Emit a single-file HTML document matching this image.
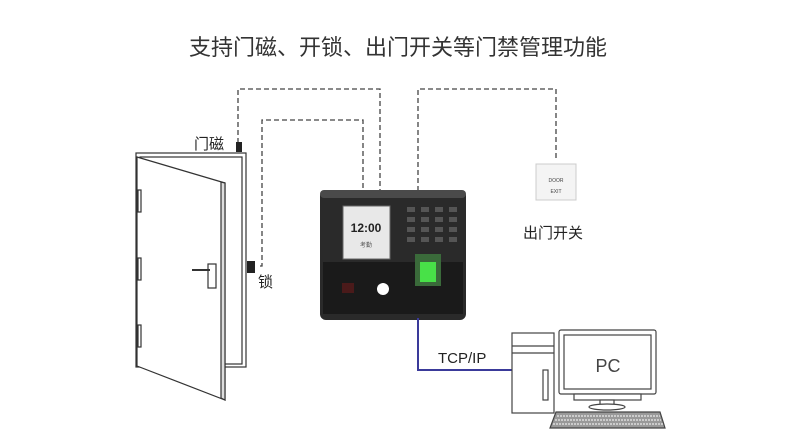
<!DOCTYPE html>
<html><head><meta charset="utf-8"><style>
body{margin:0;background:#fff}
svg{display:block;font-family:"Liberation Sans","Noto Sans CJK SC",sans-serif}
</style></head><body>
<svg width="792" height="439" viewBox="0 0 792 439">
<text x="398" y="55" font-size="22" fill="#333" text-anchor="middle">支持门磁、开锁、出门开关等门禁管理功能</text>
<g fill="none" stroke="#444" stroke-width="1.3" stroke-dasharray="5,3">
<path d="M238 143V89H380V191"/>
<path d="M260 266H262V120H363V191"/>
<path d="M418 191V89H556V160"/>
</g>
<!-- door -->
<g stroke="#333" fill="#fff" stroke-width="1.2">
<rect x="136" y="153" width="110" height="214"/>
<rect x="140" y="157" width="102" height="207" fill="#fff"/>
<polygon points="137,157 225,183 225,400 137,366" fill="#fff"/>
<polygon points="221,182 225,183 225,400 221,398" fill="#ddd"/>
<rect x="138" y="190" width="3" height="22"/><rect x="138" y="258" width="3" height="22"/><rect x="138" y="325" width="3" height="22"/>
<rect x="208" y="264" width="8" height="24"/>
<path d="M192 270L210 270" stroke-width="2"/>
</g>
<rect x="236" y="142" width="6" height="10" fill="#222"/>
<rect x="247" y="261" width="8" height="12" fill="#222"/>
<text x="194" y="149" font-size="15" fill="#222">门磁</text>
<text x="258" y="287" font-size="15" fill="#222">锁</text>
<!-- device -->
<rect x="320" y="190" width="146" height="130" rx="6" fill="#2a2a2a"/>
<rect x="320" y="190" width="146" height="8" rx="4" fill="#4a4a4a"/>
<rect x="323" y="262" width="140" height="52" fill="#1a1a1a"/>
<rect x="343" y="206" width="47" height="53" fill="#e8e8e8" stroke="#666"/>
<text x="366" y="232" font-size="12" font-weight="bold" fill="#222" text-anchor="middle">12:00</text>
<text x="366" y="247" font-size="6" fill="#555" text-anchor="middle">考勤</text>
<g fill="#555"><rect x="407" y="207" width="8" height="5"/><rect x="421" y="207" width="8" height="5"/><rect x="435" y="207" width="8" height="5"/><rect x="449" y="207" width="8" height="5"/>
<rect x="407" y="217" width="8" height="5"/><rect x="421" y="217" width="8" height="5"/><rect x="435" y="217" width="8" height="5"/><rect x="449" y="217" width="8" height="5"/>
<rect x="407" y="227" width="8" height="5"/><rect x="421" y="227" width="8" height="5"/><rect x="435" y="227" width="8" height="5"/><rect x="449" y="227" width="8" height="5"/>
<rect x="407" y="237" width="8" height="5"/><rect x="421" y="237" width="8" height="5"/><rect x="435" y="237" width="8" height="5"/><rect x="449" y="237" width="8" height="5"/></g>
<rect x="415" y="254" width="26" height="32" fill="#3a6a3a"/>
<rect x="420" y="262" width="16" height="20" fill="#4cff4c" opacity="0.8"/>
<circle cx="383" cy="289" r="6" fill="#fff"/>
<rect x="342" y="283" width="12" height="10" fill="#4a1a1a"/>
<!-- exit button -->
<rect x="536" y="164" width="40" height="36" fill="#f4f4f4" stroke="#ccc"/>
<text x="556" y="182" font-size="5" fill="#444" text-anchor="middle">DOOR</text>
<text x="556" y="193" font-size="5" fill="#444" text-anchor="middle">EXIT</text>
<text x="523" y="238" font-size="15" fill="#222">出门开关</text>
<!-- blue line -->
<path d="M418 318V370H513" stroke="#3a3a9a" stroke-width="2" fill="none"/>
<text x="438" y="363" font-size="15" fill="#222">TCP/IP</text>
<!-- PC -->
<g stroke="#444" fill="#fff" stroke-width="1.2">
<rect x="512" y="333" width="42" height="80"/>
<line x1="512" y1="346" x2="554" y2="346"/><line x1="512" y1="353" x2="554" y2="353"/>
<rect x="543" y="370" width="5" height="30"/>
<rect x="559" y="330" width="97" height="64" rx="2"/>
<rect x="564" y="335" width="87" height="54"/>
<rect x="574" y="394" width="67" height="6"/>
<rect x="600" y="400" width="14" height="5"/>
<ellipse cx="607" cy="407" rx="18" ry="3"/>
<polygon points="556,412 660,412 665,428 550,428" fill="#999"/>
</g>
<g stroke="#fff" stroke-width="1" stroke-dasharray="2,1"><line x1="557" y1="416" x2="660" y2="416"/><line x1="555" y1="420" x2="661" y2="420"/><line x1="553" y1="424" x2="663" y2="424"/></g>
<text x="608" y="372" font-size="18" fill="#444" text-anchor="middle">PC</text>
</svg>
</body></html>
